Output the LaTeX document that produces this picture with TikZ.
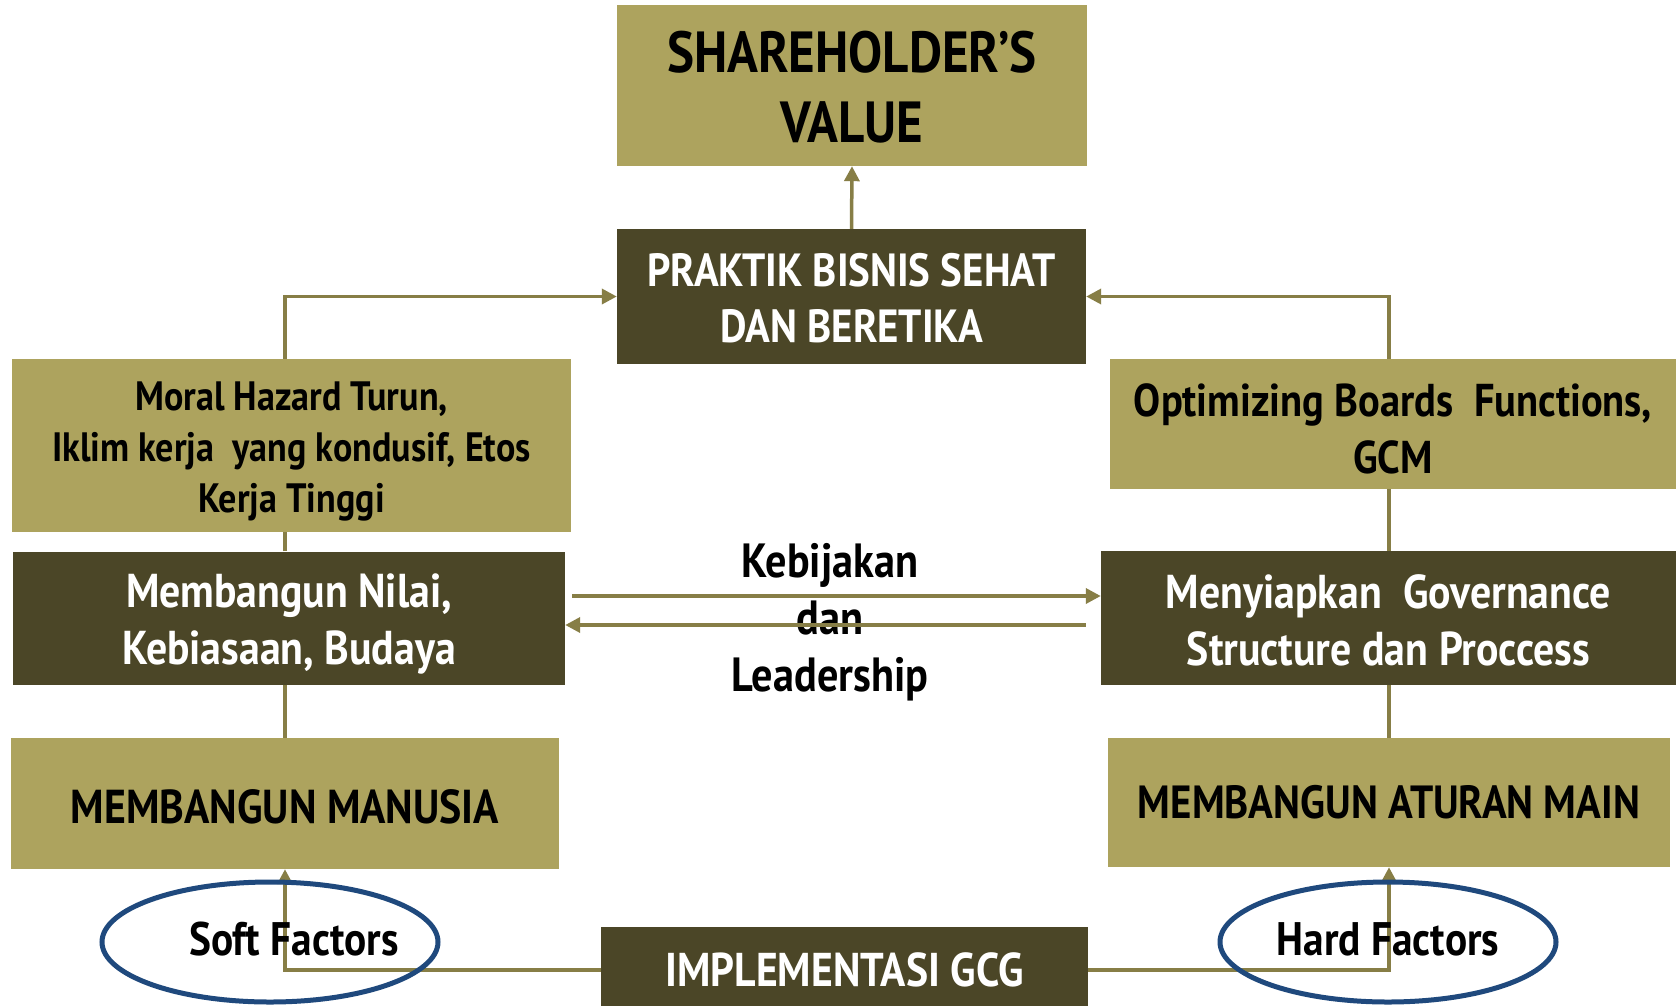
\documentclass[tikz,border=0pt]{standalone}
\usepackage{fontspec}
\setmainfont{PT Sans}[FakeStretch=0.88]
\usetikzlibrary{arrows.meta,shapes.geometric,backgrounds}
\definecolor{boxlight}{RGB}{173,163,94}
\definecolor{boxdark}{RGB}{75,70,39}
\definecolor{conn}{RGB}{135,126,70}
\definecolor{ellblue}{RGB}{31,73,125}
\newcommand{\fsz}[2]{\fontsize{#1}{#2}\selectfont\bfseries}
\newcommand{\tp}[1]{\rule{0pt}{#1pt}}
\begin{document}
\begin{tikzpicture}[x=1pt,y=-1pt,
  lightbox/.style={fill=boxlight, inner sep=0pt, align=center, text=black},
  darkbox/.style={fill=boxdark, inner sep=0pt, align=center, text=white},
  conline/.style={draw=conn, line width=3.5pt},
  arr/.style={conline, -{Triangle[length=15pt,width=15pt]}},
  ovalbox/.style={ellipse, draw=ellblue, line width=5pt, inner sep=0pt}]
\useasboundingbox (0,0) rectangle (1679,1005);

\node[lightbox, minimum width=470pt, minimum height=161pt, font=\fsz{58}{70}] (share) at (852,85.5) {\tp{45.6}SHAREHOLDER’S\\VALUE};
\node[darkbox, minimum width=469pt, minimum height=135pt, font=\fsz{46.5}{56}] (prak) at (851.5,296.5) {\tp{36.5}PRAKTIK BISNIS SEHAT\\DAN BERETIKA};

\node[lightbox, minimum width=559pt, minimum height=173pt, font=\fsz{41}{51}] (moral) at (291.5,445.5) {\tp{40.5}Moral Hazard Turun,\\Iklim kerja\ \ yang kondusif, Etos\\Kerja Tinggi};
\node[darkbox, minimum width=552pt, minimum height=133pt, font=\fsz{47.5}{57}] (nilai) at (289,618) {\tp{46}Membangun Nilai,\\Kebiasaan, Budaya};
\node[lightbox, minimum width=548pt, minimum height=131pt, font=\fsz{47.6}{57}] (manusia) at (285,803.5) {\tp{40}MEMBANGUN MANUSIA};

\node[lightbox, minimum width=566pt, minimum height=130pt, font=\fsz{46}{57}] (optim) at (1393,424) {\tp{42}Optimizing Boards\ \ Functions,\\GCM};
\node[darkbox, minimum width=575pt, minimum height=134pt, font=\fsz{47.5}{57}] (meny) at (1388.5,618) {\tp{38}Menyiapkan\ \ Governance\\Structure dan Proccess};
\node[lightbox, minimum width=562pt, minimum height=129pt, font=\fsz{46.5}{57}] (aturan) at (1389,802.5) {MEMBANGUN ATURAN MAIN};

\node[darkbox, minimum width=487pt, minimum height=86pt, font=\fsz{47.4}{52}] (impl) at (844.5,970) {IMPLEMENTASI GCG};

\node[font=\fsz{48}{57}, align=center] (keb) at (830,622) {Kebijakan\\dan\\Leadership};

\node[font=\fsz{47}{52}] (soft) at (294,939) {Soft Factors};
\node[font=\fsz{47}{52}] (hard) at (1388,939) {Hard Factors};

\begin{scope}[on background layer]
  \fill[white] (0,0) rectangle (1679,1005);
  \draw[arr] (prak.north) -- (share.south);
  \draw[arr] (impl.west) -| (manusia.south);
  \draw[conline] (manusia.north) -- (manusia.north |- nilai.south);
  \draw[conline] (manusia.north |- nilai.north) -- (manusia.north |- moral.south);
  \draw[arr] (manusia.north |- moral.north) |- (prak.west);
  \draw[arr] (impl.east) -| (aturan.south);
  \draw[conline] (aturan.north) -- (aturan.north |- meny.south);
  \draw[conline] (aturan.north |- meny.north) -- (aturan.north |- optim.south);
  \draw[arr] (aturan.north |- optim.north) |- (prak.east);
\end{scope}

\coordinate (m1) at ([xshift=7pt,yshift=22pt]nilai.east);
\coordinate (m2) at ([xshift=-15pt,yshift=-7pt]meny.west);
\draw[arr] (m1) -- (m1 -| meny.west);
\draw[arr] (m2) -- (m2 -| nilai.east);

\node[ovalbox, minimum width=336pt, minimum height=120pt] (softe) at (270,942) {};
\node[ovalbox, minimum width=336pt, minimum height=120pt] (harde) at (1388,942) {};
\end{tikzpicture}
\end{document}
